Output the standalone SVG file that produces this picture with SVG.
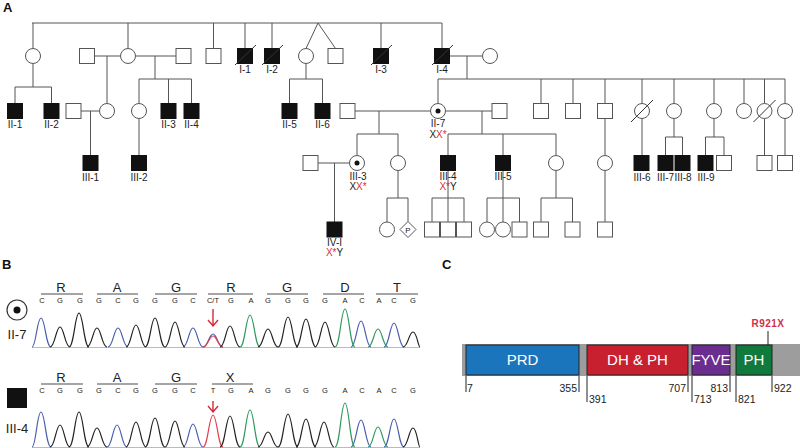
<svg xmlns="http://www.w3.org/2000/svg" width="800" height="448" viewBox="0 0 800 448">
<style>
.ln{stroke:#555;stroke-width:1;fill:none}
.sh{stroke:#555;stroke-width:1;fill:#fff}
.af{fill:#111;stroke:#111;stroke-width:1}
.sl{stroke:#333;stroke-width:1}
.lb{font-family:"Liberation Sans",Arial,sans-serif;font-size:10px;fill:#222;text-anchor:middle}
.red{fill:#d6303e}
.pl{font-family:"Liberation Sans",Arial,sans-serif;font-size:13px;font-weight:bold;fill:#111}
.cd{font-family:"Liberation Sans",Arial,sans-serif;font-size:13px;fill:#222;text-anchor:middle}
.nt{font-family:"Liberation Sans",Arial,sans-serif;font-size:7.5px;fill:#222;text-anchor:middle}
.bar{stroke:#888;stroke-width:1.5}
.tk{font-family:"Liberation Sans",Arial,sans-serif;font-size:10.5px;fill:#222}
.dm{font-family:"Liberation Sans",Arial,sans-serif;font-size:15px;fill:#fff;text-anchor:middle}
.tr{fill:none;stroke-width:1.2}
</style>
<rect width="800" height="448" fill="#fff"/>
<text class="pl" x="3" y="12">A</text>
<text class="pl" x="2" y="269">B</text>
<text class="pl" x="442" y="269">C</text>

<g id="connectors" class="ln">
<path d="M32 23H442M33 23V48.5M128 23V48.5M213.5 23V48.5M245 23V48.5M272 23V48.5M381 23V48.5M442 23V48.5"/>
<path d="M306 48.5L318 23L335.5 48.5"/>
<path d="M94.5 56H120.5M135.5 56H176M449.5 56H482.5M467 56V79"/>
<path d="M33 63.5V87M15 87H51.5M15 87V103.5M51.5 87V103.5"/>
<path d="M107 56V103.5M155 56V79M139 79H191.5M139 79V103.5M168.5 79V103.5M191.5 79V103.5"/>
<path d="M306 63.5V79M289.5 79H322.5M289.5 79V103.5M322.5 79V103.5"/>
<path d="M438 79H785M438 79V103.5M541 79V103.5M573 79V103.5M605 79V103.5M642 79V103.5M674 79V103.5M714 79V103.5M744 79V103.5M764.5 79V103.5M785 79V103.5"/>
<path d="M81 111H99.5M90.5 111V155.5M139 118.5V155.5"/>
<path d="M355 111H430.5M379 111V134M357 134H398M357 134V155.5M398 134V155.5"/>
<path d="M445.5 111H492M482 111V134M448 134H556M448 134V155.5M503 134V155.5M556 134V155.5"/>
<path d="M605 118.5V155.5M642 118.5V155.5M674 118.5V137M665.5 137H682.5M665.5 137V155.5M682.5 137V155.5"/>
<path d="M714 118.5V137M705.5 137H724M705.5 137V155.5M724 137V155.5M764.5 118.5V155.5M785 118.5V155.5"/>
<path d="M318 163H349.5M334.5 163V222"/>
<path d="M398 170.5V198M387 198H408M387 198V222M408 198V221.5"/>
<path d="M448 170.5V222M432 198H464M432 198V222M464 198V222"/>
<path d="M503 170.5V222M487 198H519.5M487 198V222M519.5 198V222"/>
<path d="M556 170.5V198M541 198H572.5M541 198V222M572.5 198V222M605 170.5V222"/>
</g>

<g id="gen1">
<g id="n-g1a"><circle class="sh" cx="33" cy="56" r="7.5"/></g>
<g id="n-g1b-h1"><rect class="sh" x="79.5" y="48.5" width="15" height="15"/></g>
<g id="n-g1b"><circle class="sh" cx="128" cy="56" r="7.5"/></g>
<g id="n-g1b-h2"><rect class="sh" x="176" y="48.5" width="15" height="15"/></g>
<g id="n-g1c"><rect class="sh" x="206" y="48.5" width="15" height="15"/></g>
<g id="n-I-1"><rect class="af" x="237.5" y="48.5" width="15" height="15"/><line class="sl" x1="235" y1="65" x2="256" y2="45"/><text class="lb" x="245" y="73">I-1</text></g>
<g id="n-I-2"><rect class="af" x="264.5" y="48.5" width="15" height="15"/><line class="sl" x1="262" y1="65" x2="283" y2="45"/><text class="lb" x="272" y="73">I-2</text></g>
<g id="n-twin-f"><circle class="sh" cx="306" cy="56" r="7.5"/></g>
<g id="n-twin-m"><rect class="sh" x="328" y="48.5" width="15" height="15"/></g>
<g id="n-I-3"><rect class="af" x="373.5" y="48.5" width="15" height="15"/><line class="sl" x1="371" y1="65" x2="392" y2="45"/><text class="lb" x="381" y="73">I-3</text></g>
<g id="n-I-4"><rect class="af" x="434.5" y="48.5" width="15" height="15"/><line class="sl" x1="432" y1="65" x2="453" y2="45"/><text class="lb" x="442" y="73">I-4</text></g>
<g id="n-I-4w"><circle class="sh" cx="490" cy="56" r="7.5"/></g>
</g>

<g id="gen2">
<g id="n-II-1"><rect class="af" x="7.5" y="103.5" width="15" height="15"/><text class="lb" x="15" y="128">II-1</text></g>
<g id="n-II-2"><rect class="af" x="44" y="103.5" width="15" height="15"/><text class="lb" x="51.5" y="128">II-2</text></g>
<g id="n-g2a-h"><rect class="sh" x="66" y="103.5" width="15" height="15"/></g>
<g id="n-g2a"><circle class="sh" cx="107" cy="111" r="7.5"/></g>
<g id="n-g2b"><circle class="sh" cx="139" cy="111" r="7.5"/></g>
<g id="n-II-3"><rect class="af" x="161" y="103.5" width="15" height="15"/><text class="lb" x="168.5" y="128">II-3</text></g>
<g id="n-II-4"><rect class="af" x="184" y="103.5" width="15" height="15"/><text class="lb" x="191.5" y="128">II-4</text></g>
<g id="n-II-5"><rect class="af" x="282" y="103.5" width="15" height="15"/><text class="lb" x="289.5" y="128">II-5</text></g>
<g id="n-II-6"><rect class="af" x="315" y="103.5" width="15" height="15"/><text class="lb" x="322.5" y="128">II-6</text></g>
<g id="n-II-7h1"><rect class="sh" x="340" y="103.5" width="15" height="15"/></g>
<g id="n-II-7"><circle class="sh" cx="438" cy="111" r="7.5"/><circle cx="438" cy="111" r="2.5" fill="#111"/><text class="lb" x="438" y="127">II-7</text><text class="lb" x="438" y="138">X<tspan class="red">X*</tspan></text></g>
<g id="n-II-7h2"><rect class="sh" x="492" y="103.5" width="15" height="15"/></g>
<g id="n-g2c"><rect class="sh" x="533.5" y="103.5" width="15" height="15"/></g>
<g id="n-g2d"><rect class="sh" x="565.5" y="103.5" width="15" height="15"/></g>
<g id="n-g2e"><rect class="sh" x="597.5" y="103.5" width="15" height="15"/></g>
<g id="n-g2f"><circle class="sh" cx="642" cy="111" r="7.5"/><line class="sl" x1="631" y1="122" x2="653" y2="100"/></g>
<g id="n-g2g"><circle class="sh" cx="674" cy="111" r="7.5"/></g>
<g id="n-g2h"><circle class="sh" cx="714" cy="111" r="7.5"/></g>
<g id="n-g2i"><circle class="sh" cx="744" cy="111" r="7.5"/></g>
<g id="n-g2j"><circle class="sh" cx="764.5" cy="111" r="7.5"/><line class="sl" x1="753.5" y1="122" x2="775.5" y2="100"/></g>
<g id="n-g2k"><circle class="sh" cx="785" cy="111" r="7.5"/></g>
</g>

<g id="gen3">
<g id="n-III-1"><rect class="af" x="83" y="155.5" width="15" height="15"/><text class="lb" x="90.5" y="181">III-1</text></g>
<g id="n-III-2"><rect class="af" x="131.5" y="155.5" width="15" height="15"/><text class="lb" x="139" y="181">III-2</text></g>
<g id="n-III-3h"><rect class="sh" x="303" y="155.5" width="15" height="15"/></g>
<g id="n-III-3"><circle class="sh" cx="357" cy="163" r="7.5"/><circle cx="357" cy="163" r="2.5" fill="#111"/><text class="lb" x="358" y="180">III-3</text><text class="lb" x="358" y="190">X<tspan class="red">X*</tspan></text></g>
<g id="n-g3a"><circle class="sh" cx="398" cy="163" r="7.5"/></g>
<g id="n-III-4"><rect class="af" x="440.5" y="155.5" width="15" height="15"/><text class="lb" x="448" y="180">III-4</text><text class="lb" x="448" y="190"><tspan class="red">X*</tspan>Y</text></g>
<g id="n-III-5"><rect class="af" x="495.5" y="155.5" width="15" height="15"/><text class="lb" x="503" y="180">III-5</text></g>
<g id="n-g3b"><circle class="sh" cx="556" cy="163" r="7.5"/></g>
<g id="n-g3c"><circle class="sh" cx="605" cy="163" r="7.5"/></g>
<g id="n-III-6"><rect class="af" x="634" y="155.5" width="15" height="15"/><text class="lb" x="642" y="180.5">III-6</text></g>
<g id="n-III-7"><rect class="af" x="658" y="155.5" width="15" height="15"/><text class="lb" x="665.5" y="180.5">III-7</text></g>
<g id="n-III-8"><rect class="af" x="675" y="155.5" width="15" height="15"/><text class="lb" x="683" y="180.5">III-8</text></g>
<g id="n-III-9"><rect class="af" x="698" y="155.5" width="15" height="15"/><text class="lb" x="706" y="180.5">III-9</text></g>
<g id="n-g3d"><rect class="sh" x="716.5" y="155.5" width="15" height="15"/></g>
<g id="n-g3e"><rect class="sh" x="757" y="155.5" width="15" height="15"/></g>
<g id="n-g3f"><rect class="sh" x="777.5" y="155.5" width="15" height="15"/></g>
</g>

<g id="gen4">
<g id="n-IV-1"><rect class="af" x="327" y="222" width="15" height="15"/><text class="lb" x="334.5" y="246">IV-I</text><text class="lb" x="334.5" y="256"><tspan class="red">X*</tspan>Y</text></g>
<g id="n-g4a"><circle class="sh" cx="387" cy="229.5" r="7.5"/></g>
<g id="n-g4b"><path class="sh" d="M408 221.5L416 229.5L408 237.5L400 229.5Z"/><text class="lb" x="408" y="232.5" style="font-size:8px">P</text></g>
<g id="n-g4c"><rect class="sh" x="424.5" y="222" width="15" height="15"/></g>
<g id="n-g4d"><rect class="sh" x="440.5" y="222" width="15" height="15"/></g>
<g id="n-g4e"><rect class="sh" x="456.5" y="222" width="15" height="15"/></g>
<g id="n-g4f"><circle class="sh" cx="487" cy="229.5" r="7.5"/></g>
<g id="n-g4g"><circle class="sh" cx="503" cy="229.5" r="7.5"/></g>
<g id="n-g4h"><rect class="sh" x="512" y="222" width="15" height="15"/></g>
<g id="n-g4i"><rect class="sh" x="533.5" y="222" width="15" height="15"/></g>
<g id="n-g4j"><rect class="sh" x="565" y="222" width="15" height="15"/></g>
<g id="n-g4k"><rect class="sh" x="597.5" y="222" width="15" height="15"/></g>
</g>

<g id="panel-b">
<circle cx="17" cy="310" r="10" fill="#fff" stroke="#333" stroke-width="1.2"/>
<circle cx="17" cy="310" r="3.5" fill="#111"/>
<text class="cd" x="17" y="339">II-7</text>
<rect x="7" y="388" width="20" height="20" fill="#111"/>
<text class="cd" x="17" y="433">III-4</text>

<g id="codons-ii7">
<path class="bar" d="M41 294H83M97 294H138M155 294H197M208 294H253M267 294H308M323 294H364M376 294H418"/>
<text class="cd" x="61" y="292">R</text><text class="cd" x="117" y="292">A</text><text class="cd" x="176" y="292">G</text><text class="cd" x="231" y="292">R</text><text class="cd" x="287" y="292">G</text><text class="cd" x="345" y="292">D</text><text class="cd" x="397" y="292">T</text>
<text class="nt" y="303"><tspan x="42">C</tspan><tspan x="60">G</tspan><tspan x="80">G</tspan><tspan x="99">G</tspan><tspan x="118">C</tspan><tspan x="136">G</tspan><tspan x="155">G</tspan><tspan x="175">G</tspan><tspan x="193">C</tspan><tspan x="213">C/T</tspan><tspan x="231">G</tspan><tspan x="251">A</tspan><tspan x="268">G</tspan><tspan x="288">G</tspan><tspan x="306">G</tspan><tspan x="325">G</tspan><tspan x="345">A</tspan><tspan x="362">C</tspan><tspan x="379">A</tspan><tspan x="394">C</tspan><tspan x="413">G</tspan></text>
</g>
<g id="trace-ii7">
<line x1="32" y1="347.5" x2="420" y2="347.5" stroke="#bbb" stroke-width="1"/>
<path class="tr" stroke="#4a5db0" d="M32 347C36 347 37 318 41 318C45 318 46 347 51 347M108 347C113 347 114 328 118 328C122 328 123 347 128 347M183 347C188 347 189 328 193 328C197 328 198 347 203 347M203 347C208 347 209 334 213 334C217 334 218 347 223 347M351 347C356 347 357 321 361 321C365 321 366 347 371 347M384 347C389 347 390 323 394 323C398 323 399 347 404 347"/>
<path class="tr" stroke="#2f9a5e" d="M240 347C245 347 246 315 250 315C254 315 255 347 260 347M335 347C340 347 341 309 345 309C349 309 350 347 355 347M368 347C373 347 374 329 378 329C382 329 383 347 388 347"/>
<path class="tr" stroke="#e0404c" d="M203 347C208 347 209 336 213 336C217 336 218 347 223 347"/>
<path class="tr" stroke="#222" d="M50 347C55 347 56 327 60 327C64 327 65 347 70 347M69 347C74 347 75 313 79 313C83 313 84 347 89 347M87 347C92 347 93 328 97 328C101 328 102 347 107 347M126 347C131 347 132 325 136 325C140 325 141 347 146 347M145 347C150 347 151 318 155 318C159 318 160 347 165 347M165 347C170 347 171 322 175 322C179 322 180 347 185 347M220 347C225 347 226 326 230 326C234 326 235 347 240 347M258 347C263 347 264 329 268 329C272 329 273 347 278 347M278 347C283 347 284 317 288 317C292 317 293 347 298 347M296 347C301 347 302 319 306 319C310 319 311 347 316 347M315 347C320 347 321 322 325 322C329 322 330 347 335 347M403 347C408 347 409 332 413 332C417 332 418 347 420 347"/>
<path d="M213 309V326M208 320L213 326L218 320" fill="none" stroke="#d42a3a" stroke-width="1.4"/>
</g>

<g id="codons-iii4">
<path class="bar" d="M41 384H83M97 384H138M155 384H197M212 384H253"/>
<text class="cd" x="61" y="382">R</text><text class="cd" x="117" y="382">A</text><text class="cd" x="176" y="382">G</text><text class="cd" x="230" y="382">X</text>
<text class="nt" y="393"><tspan x="42">C</tspan><tspan x="60">G</tspan><tspan x="80">G</tspan><tspan x="99">G</tspan><tspan x="118">C</tspan><tspan x="136">G</tspan><tspan x="155">G</tspan><tspan x="175">G</tspan><tspan x="193">C</tspan><tspan x="213">T</tspan><tspan x="231">G</tspan><tspan x="251">A</tspan><tspan x="268">G</tspan><tspan x="288">G</tspan><tspan x="306">G</tspan><tspan x="325">G</tspan><tspan x="345">A</tspan><tspan x="362">C</tspan><tspan x="379">A</tspan><tspan x="394">C</tspan><tspan x="413">G</tspan></text>
</g>
<g id="trace-iii4">
<line x1="32" y1="447.5" x2="420" y2="447.5" stroke="#bbb" stroke-width="1"/>
<path class="tr" stroke="#4a5db0" d="M32 447C36 447 37 412 41 412C45 412 46 447 51 447M107 447C112 447 113 425 117 425C121 425 122 447 127 447M183 447C188 447 189 424 193 424C197 424 198 447 203 447M351 447C356 447 357 420 361 420C365 420 366 447 371 447M384 447C389 447 390 419 394 419C398 419 399 447 404 447"/>
<path class="tr" stroke="#2f9a5e" d="M240 447C245 447 246 410 250 410C254 410 255 447 260 447M335 447C340 447 341 403 345 403C349 403 350 447 355 447M368 447C373 447 374 427 378 427C382 427 383 447 388 447"/>
<path class="tr" stroke="#e0404c" d="M203 447C208 447 209 415 213 415C217 415 218 447 223 447"/>
<path class="tr" stroke="#222" d="M50 447C55 447 56 425 60 425C64 425 65 447 70 447M69 447C74 447 75 412 79 412C83 412 84 447 89 447M87 447C92 447 93 428 97 428C101 428 102 447 107 447M126 447C131 447 132 422 136 422C140 422 141 447 146 447M145 447C150 447 151 418 155 418C159 418 160 447 165 447M165 447C170 447 171 421 175 421C179 421 180 447 185 447M220 447C225 447 226 416 230 416C234 416 235 447 240 447M258 447C263 447 264 432 268 432C272 432 273 447 278 447M278 447C283 447 284 414 288 414C292 414 293 447 298 447M296 447C301 447 302 419 306 419C310 419 311 447 316 447M314 447C319 447 320 422 324 422C328 422 329 447 334 447M403 447C408 447 409 428 413 428C417 428 418 447 420 447"/>
<path d="M213 401V412M208 406L213 412L218 406" fill="none" stroke="#d42a3a" stroke-width="1.4"/>
</g>
</g>

<g id="panel-c">
<rect x="462" y="344" width="338" height="32" fill="#9d9d9d"/>
<g id="d-prd"><rect x="466" y="345" width="113" height="30" fill="#1b75bc" stroke="#222" stroke-width="1"/><text class="dm" x="522.5" y="365">PRD</text></g>
<g id="d-dhph"><rect x="587" y="345" width="101" height="30" fill="#c8202f" stroke="#222" stroke-width="1"/><text class="dm" x="637.5" y="365">DH &amp; PH</text></g>
<g id="d-fyve"><rect x="692" y="345" width="38" height="30" fill="#6b2d90" stroke="#222" stroke-width="1"/><text class="dm" x="711" y="365">FYVE</text></g>
<g id="d-ph"><rect x="736" y="345" width="36" height="30" fill="#0f7a3c" stroke="#222" stroke-width="1"/><text class="dm" x="754" y="365">PH</text></g>
<path d="M466 376V392M579 376V392M587 376V402M688 376V392M692 376V402M730 376V392M736 376V402M772 376V392M768 331V345" stroke="#222" stroke-width="1" fill="none"/>
<text class="tk" x="467" y="392">7</text>
<text class="tk" x="577" y="392" text-anchor="end">355</text>
<text class="tk" x="589" y="403">391</text>
<text class="tk" x="686" y="392" text-anchor="end">707</text>
<text class="tk" x="694" y="403">713</text>
<text class="tk" x="728" y="392" text-anchor="end">813</text>
<text class="tk" x="738" y="403">821</text>
<text class="tk" x="774" y="392">922</text>
<text x="768" y="327" text-anchor="middle" style="font-family:'Liberation Sans',Arial,sans-serif;font-size:10px;font-weight:bold;fill:#d0304a;letter-spacing:0.5px">R921X</text>
</g>
</svg>
